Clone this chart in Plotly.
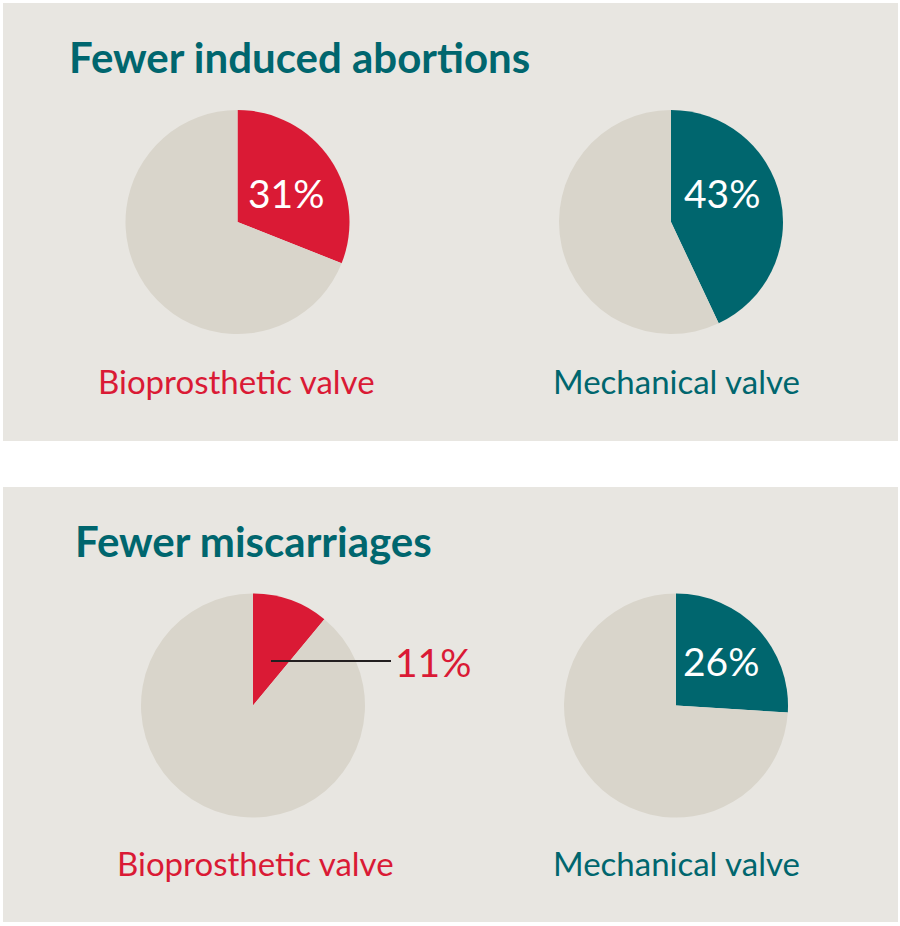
import plotly.graph_objects as go

# ---- data ----
panel_titles = ["Fewer induced abortions", "Fewer miscarriages"]
valve_types = ["Bioprosthetic valve", "Mechanical valve"]
abortion_pct = [31, 43]        # bioprosthetic, mechanical
miscarriage_pct = [11, 26]     # bioprosthetic, mechanical

RED = "#DA1A35"
TEAL = "#00666E"
GREY = "#D9D5CB"
PANEL = "#E8E6E1"
W, H = 900, 926
FONT = "Lato"

def px_x(x):
    return x / W

def px_y(y):
    return 1 - y / H

fig = go.Figure()

# pie layout: (center x, center y) in pixels, radius
centers = [(237.5, 222), (671, 222), (253, 705.5), (676, 705.5)]
R = 112
values = [abortion_pct[0], abortion_pct[1], miscarriage_pct[0], miscarriage_pct[1]]
colors = [RED, TEAL, RED, TEAL]

for (cx, cy), v, c in zip(centers, values, colors):
    fig.add_trace(go.Pie(
        values=[v, 100 - v],
        labels=["yes", "no"],
        marker=dict(colors=[c, GREY], line=dict(width=0)),
        sort=False, direction="clockwise", rotation=0,
        textinfo="none", hoverinfo="skip", showlegend=False,
        domain=dict(x=[px_x(cx - R), px_x(cx + R)], y=[px_y(cy + R), px_y(cy - R)]),
    ))

shapes = [
    dict(type="rect", xref="paper", yref="paper", x0=px_x(3), x1=px_x(898),
         y0=px_y(441), y1=px_y(3), fillcolor=PANEL, line=dict(width=0), layer="below"),
    dict(type="rect", xref="paper", yref="paper", x0=px_x(3), x1=px_x(898),
         y0=px_y(922), y1=px_y(487), fillcolor=PANEL, line=dict(width=0), layer="below"),
    # leader line for the small slice
    dict(type="line", xref="paper", yref="paper", x0=px_x(271), x1=px_x(391),
         y0=px_y(661), y1=px_y(661), line=dict(color="#231F20", width=2), layer="above"),
]

ann = []
# titles
ann.append(dict(text=panel_titles[0], x=px_x(67), y=px_y(57), xanchor="left", yanchor="middle",
                font=dict(family=FONT, size=42, color=TEAL, weight="bold")))
ann.append(dict(text=panel_titles[1], x=px_x(73), y=px_y(541), xanchor="left", yanchor="middle",
                font=dict(family=FONT, size=42, color=TEAL, weight="bold")))
# valve labels
label_pos = [(237, 381), (676, 381), (255, 863), (676, 863)]
label_col = [RED, TEAL, RED, TEAL]
for i, ((lx, ly), col) in enumerate(zip(label_pos, label_col)):
    ann.append(dict(text=valve_types[i % 2], x=px_x(lx), y=px_y(ly), xanchor="center", yanchor="middle",
                    font=dict(family=FONT, size=33, color=col)))
# percentage labels
pct_pos = [(286, 193, "center"), (722, 193, "center"), (393, 662, "left"), (721, 661, "center")]
pct_col = ["white", "white", RED, "white"]
for (lx, ly, xa), v, col in zip(pct_pos, values, pct_col):
    ann.append(dict(text=f"{v}%", x=px_x(lx), y=px_y(ly), xanchor=xa, yanchor="middle",
                    font=dict(family=FONT, size=39, color=col)))

for a in ann:
    a.update(xref="paper", yref="paper", showarrow=False)

fig.update_layout(
    width=W, height=H, margin=dict(l=0, r=0, t=0, b=0),
    paper_bgcolor="white", plot_bgcolor="white",
    shapes=shapes, annotations=ann,
)

fig.write_html("out.html", config={"displayModeBar": False},
               post_script="document.body.style.margin='0px';")
